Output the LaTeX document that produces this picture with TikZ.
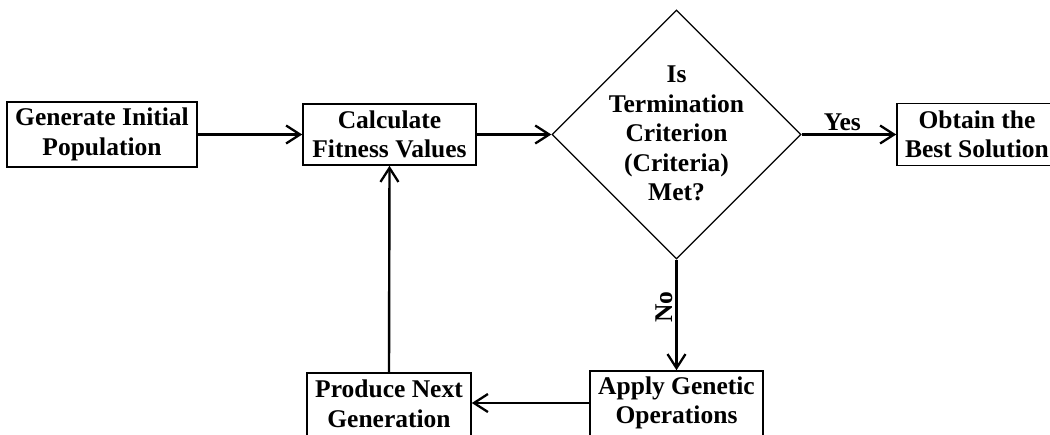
\documentclass[tikz,border=0pt]{standalone}
\usepackage{fontspec}
\setmainfont{Liberation Serif}
\usetikzlibrary{arrows.meta,shapes.geometric}
\begin{document}
\begin{tikzpicture}[x=1pt,y=-1pt,
  txtfont/.style={font=\fontsize{25.5}{29.5}\selectfont\bfseries},
  box/.style={draw, line width=1.6pt, rectangle, inner sep=0pt, align=center, txtfont},
  decbox/.style={draw, line width=1.3pt, diamond, inner sep=0pt, minimum width=249pt, minimum height=249pt},
  arr/.style={line width=2.4pt, -{Straight Barb[length=14pt,width=18pt,line width=2.3pt]}},
  lbl/.style={txtfont, inner sep=3pt}
]
\useasboundingbox (0,0) rectangle (1050,434);
\clip (0,0) rectangle (1050,434);
\node[box, minimum width=190pt, minimum height=65pt] (gen) at (102,134.5) {Generate Initial\\Population};
\node[box, minimum width=173pt, minimum height=61pt] (calc) at (389.5,134.5) {Calculate\\Fitness Values};
\node[decbox, label={[txtfont, align=center, yshift=1pt]center:Is\\Termination\\Criterion\\(Criteria)\\Met?}] (dec) at (676.5,134.5) {};
\node[box, minimum width=160pt, minimum height=62pt] (obt) at (977,134.5) {Obtain the\\Best Solution};
\node[box, minimum width=173pt, minimum height=74pt,
  label={[txtfont, align=center, yshift=5pt]center:Apply Genetic\\Operations}] (apply) at (676.5,408) {};
\node[box, minimum width=164pt, minimum height=74pt,
  label={[txtfont, align=center, yshift=6pt]center:Produce Next\\Generation}] (prod) at (389,410) {};
\draw[arr] (gen.east) -- (calc.west);
\draw[arr] (calc.east) -- (dec.west);
\draw[arr] (dec.east) -- node[lbl, above, pos=0.43] {Yes} (obt.west);
\draw[arr] (dec.south) -- node[lbl, rotate=90, anchor=south, pos=0.43] {No} (apply.north);
\draw[arr] ([yshift=5pt]apply.west) -- ([yshift=5pt]apply.west -| prod.east);
\draw[arr] (prod.north) -- (calc.south);
\end{tikzpicture}
\end{document}
